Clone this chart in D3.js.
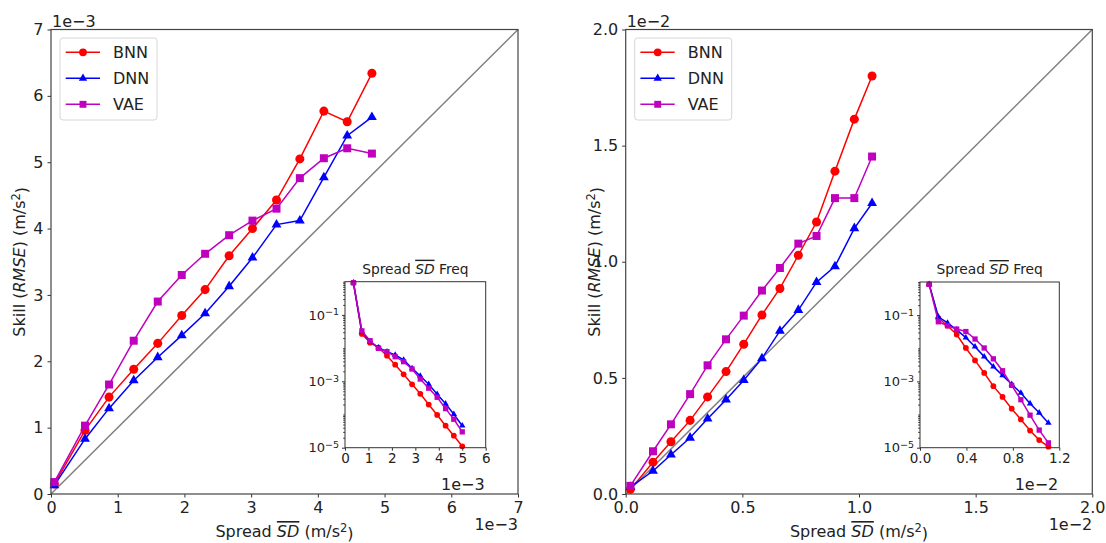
<!DOCTYPE html>
<html>
<head>
<meta charset="utf-8">
<script src="https://cdn.jsdelivr.net/npm/d3@7"></script>
<style>
  body { margin: 0; background: #fff; }
  svg { font-family: "DejaVu Sans", sans-serif; }
</style>
</head>
<body>
<svg id="chart" width="1106" height="543"></svg>
<script>
// left panel, values in units of 1e-3 m/s^2
var leftX   = [0.05, 0.51, 0.87, 1.24, 1.60, 1.96, 2.31, 2.67, 3.02, 3.38, 3.73, 4.09, 4.44, 4.81]
var leftBNN = [0.15, 0.96, 1.46, 1.88, 2.27, 2.69, 3.08, 3.59, 4.00, 4.43, 5.05, 5.77, 5.61, 6.34]
var leftDNN = [0.13, 0.83, 1.29, 1.71, 2.06, 2.39, 2.72, 3.13, 3.56, 4.06, 4.12, 4.77, 5.40, 5.68]
var leftVAE = [0.18, 1.03, 1.65, 2.31, 2.90, 3.30, 3.62, 3.90, 4.12, 4.30, 4.76, 5.06, 5.21, 5.13]
var leftTicks = [0, 1, 2, 3, 4, 5, 6, 7]

// right panel, values in units of 1e-2 m/s^2
var rightX   = [0.02, 0.117, 0.194, 0.276, 0.351, 0.430, 0.506, 0.584, 0.661, 0.740, 0.818, 0.897, 0.980, 1.056]
var rightBNN = [0.02, 0.137, 0.225, 0.317, 0.418, 0.527, 0.645, 0.771, 0.885, 1.028, 1.171, 1.390, 1.614, 1.800]
var rightDNN = [0.03, 0.099, 0.169, 0.242, 0.324, 0.406, 0.490, 0.584, 0.702, 0.792, 0.912, 0.980, 1.144, 1.252]
var rightVAE = [0.035, 0.184, 0.300, 0.430, 0.554, 0.666, 0.768, 0.876, 0.973, 1.078, 1.111, 1.274, 1.274, 1.453]
var rightTicks = [0, 0.5, 1.0, 1.5, 2.0]

// inset frequencies (left inset x in 1e-3, right inset x in 1e-2)
var insetLeftX   = [0.36, 0.72, 1.07, 1.43, 1.79, 2.14, 2.50, 2.86, 3.21, 3.57, 3.93, 4.29, 4.64, 5.00]
var insetLeftBNN = [0.93, 0.0266, 0.0146, 0.0103, 0.0059, 0.00316, 0.00162, 8.1e-4, 4.2e-4, 2.0e-4, 9.7e-5, 4.6e-5, 2.3e-5, 1.1e-5]
var insetLeftDNN = [0.93, 0.031, 0.0156, 0.0103, 0.0078, 0.0062, 0.0044, 0.00245, 0.00145, 8.1e-4, 4.1e-4, 2.1e-4, 1.02e-4, 4.6e-5]
var insetLeftVAE = [0.93, 0.033, 0.0167, 0.0098, 0.0078, 0.0055, 0.0039, 0.00234, 0.00117, 6.2e-4, 3.3e-4, 1.5e-4, 7.2e-5, 3.0e-5]
var insetLeftTicks = [0, 1, 2, 3, 4, 5, 6]

var insetRightX   = [0.079, 0.158, 0.237, 0.316, 0.395, 0.474, 0.553, 0.632, 0.711, 0.790, 0.869, 0.948, 1.027, 1.106]
var insetRightBNN = [0.85, 0.081, 0.048, 0.026, 0.0102, 0.0043, 0.0018, 7.2e-4, 3.4e-4, 1.5e-4, 7.1e-5, 3.3e-5, 1.7e-5, 1.07e-5]
var insetRightDNN = [0.85, 0.089, 0.058, 0.036, 0.021, 0.0112, 0.0056, 0.0028, 0.00152, 8.2e-4, 4.5e-4, 2.15e-4, 1.13e-4, 5.6e-5]
var insetRightVAE = [0.85, 0.063, 0.048, 0.038, 0.032, 0.019, 0.0102, 0.0048, 0.0021, 7.6e-4, 2.8e-4, 9.6e-5, 3.4e-5, 1.4e-5]
var insetRightTicks = [0, 0.4, 0.8, 1.2]

var logTicks = [1e-1, 1e-3, 1e-5]
var seriesNames = ["BNN", "DNN", "VAE"]
var colors = {BNN: "#ff0000", DNN: "#0000ff", VAE: "#bf00bf"}
var symbols = {BNN: d3.symbolCircle, DNN: d3.symbolTriangle, VAE: d3.symbolSquare}
var bigSize = {BNN: 64, DNN: 42, VAE: 64}
var smallSize = {BNN: 26, DNN: 18, VAE: 28}

var svg = d3.select("#chart")

function styleAxis(g, fs) {
    g.select(".domain").remove()
    g.attr("font-family", null).attr("font-size", null)
    g.selectAll(".tick line").attr("stroke", "#333")
    g.selectAll(".tick text").attr("fill", "#222").style("font-size", fs + "px")
}

function drawSeries(g, x, y, xs, data, sizes) {
    seriesNames.forEach(function(name) {
        var pts = xs.map(function(v, i) { return [v, data[name][i]] })
        g.append("path")
            .datum(pts)
            .attr("fill", "none")
            .attr("stroke", colors[name])
            .attr("stroke-width", 1.5)
            .attr("d", d3.line().x(d => x(d[0])).y(d => y(d[1])))
        g.selectAll(null)
            .data(pts)
            .enter()
            .append("path")
            .attr("transform", d => "translate(" + x(d[0]) + "," + y(d[1]) + ")")
            .attr("d", d3.symbol().type(symbols[name]).size(sizes[name]))
            .attr("fill", colors[name])
    })
}

// label with italic, overlined "SD"
function sdLabel(sel, before, after) {
    sel.append("tspan").text(before)
    sel.append("tspan").text("SD")
        .style("font-style", "italic")
        .style("text-decoration", "overline")
    sel.append("tspan").text(after)
}

// "(m/s^2)" with a proper superscript
function unitLabel(sel) {
    sel.append("tspan").text(" (m/s")
    sel.append("tspan").text("2").attr("dy", "-0.42em").style("font-size", "11.5px")
    sel.append("tspan").text(")").attr("dy", "0.42em")
}

function drawPanel(p) {
    var g = svg.append("g")
    var x = d3.scaleLinear().domain([0, p.max]).range([p.left, p.right])
    var y = d3.scaleLinear().domain([0, p.max]).range([p.bottom, p.top])

    // diagonal
    g.append("line")
        .attr("x1", x(0)).attr("y1", y(0))
        .attr("x2", x(p.max)).attr("y2", y(p.max))
        .attr("stroke", "#808080").attr("stroke-width", 1.5)

    drawSeries(g, x, y, p.xs, p.data, bigSize)

    g.append("g").attr("transform", "translate(0," + p.bottom + ")")
        .call(d3.axisBottom(x).tickValues(p.ticks).tickFormat(p.fmt).tickSize(3.5).tickPadding(4.5))
        .call(styleAxis, 16)
    g.append("g").attr("transform", "translate(" + p.left + ",0)")
        .call(d3.axisLeft(y).tickValues(p.ticks).tickFormat(p.fmt).tickSize(3.5).tickPadding(4))
        .call(styleAxis, 16)

    g.append("rect")
        .attr("x", p.left).attr("y", p.top)
        .attr("width", p.right - p.left).attr("height", p.bottom - p.top)
        .attr("fill", "none").attr("stroke", "#444").attr("stroke-width", 1.2)

    // offset texts
    g.append("text").attr("x", p.left + 1).attr("y", 26.5)
        .attr("font-size", 16).attr("fill", "#222").text(p.offset)
    g.append("text").attr("x", p.right).attr("y", 530)
        .attr("text-anchor", "end").attr("font-size", 16).attr("fill", "#222").text(p.offset)

    // axis labels
    var xl = g.append("text")
        .attr("x", (p.left + p.right) / 2).attr("y", 537)
        .attr("text-anchor", "middle").attr("font-size", 16).attr("fill", "#222")
    sdLabel(xl, "Spread ", "")
    unitLabel(xl)
    var yl = g.append("text")
        .attr("transform", "translate(" + (p.left - 26) + "," + ((p.top + p.bottom) / 2) + ") rotate(-90)")
        .attr("text-anchor", "middle").attr("font-size", 16).attr("fill", "#222")
    yl.append("tspan").text("Skill (")
    yl.append("tspan").text("RMSE").style("font-style", "italic")
    yl.append("tspan").text(")")
    unitLabel(yl)

    // legend
    var lg = g.append("g").attr("transform", "translate(" + (p.left + 9) + ",38)")
    lg.append("rect").attr("width", 97).attr("height", 82).attr("rx", 3)
        .attr("fill", "#fff").attr("fill-opacity", 0.8)
        .attr("stroke", "#d6d6d6")
    seriesNames.forEach(function(name, i) {
        var yy = 14.3 + i * 26
        lg.append("line").attr("x1", 5.7).attr("x2", 40).attr("y1", yy).attr("y2", yy)
            .attr("stroke", colors[name]).attr("stroke-width", 1.5)
        lg.append("path").attr("transform", "translate(23," + yy + ")")
            .attr("d", d3.symbol().type(symbols[name]).size(name === "DNN" ? 30 : 48))
            .attr("fill", colors[name])
        lg.append("text").attr("x", 53).attr("y", yy).attr("dy", "0.36em")
            .attr("font-size", 16).attr("fill", "#222").text(name)
    })

    drawInset(p.inset)
}

function drawInset(q) {
    var g = svg.append("g")
    var x = d3.scaleLinear().domain([0, q.max]).range([q.left, q.right])
    var y = d3.scaleLog().domain([1e-5, 1]).range([q.bottom, q.top])

    g.append("rect")
        .attr("x", q.left).attr("y", q.top)
        .attr("width", q.right - q.left).attr("height", q.bottom - q.top)
        .attr("fill", "#fff")

    drawSeries(g, x, y, q.xs, q.data, smallSize)

    g.append("g").attr("transform", "translate(0," + q.bottom + ")")
        .call(d3.axisBottom(x).tickValues(q.ticks).tickFormat(q.fmt).tickSize(3).tickPadding(3))
        .call(styleAxis, 13.5)

    var minor = []
    for (var k = -5; k <= 0; k++) {
        for (var m = 1; m <= 9; m++) {
            var v = m * Math.pow(10, k)
            if (v <= 1 && !(m === 1 && (k === -1 || k === -3 || k === -5))) minor.push(v)
        }
    }
    g.append("g").attr("transform", "translate(" + q.left + ",0)")
        .call(d3.axisLeft(y).tickValues(minor).tickFormat("").tickSize(1.8))
        .call(styleAxis, 13)
    var ya = g.append("g").attr("transform", "translate(" + q.left + ",0)")
        .call(d3.axisLeft(y).tickValues(logTicks).tickFormat("").tickSize(3).tickPadding(3))
        .call(styleAxis, 13)
    ya.selectAll(".tick text").each(function(d) {
        var t = d3.select(this)
        t.append("tspan").text("10")
        t.append("tspan").text("\u2212" + Math.round(-Math.log10(d)))
            .attr("dy", "-0.45em").style("font-size", "9.5px")
    })

    g.append("rect")
        .attr("x", q.left).attr("y", q.top)
        .attr("width", q.right - q.left).attr("height", q.bottom - q.top)
        .attr("fill", "none").attr("stroke", "#333").attr("stroke-width", 1)

    sdLabel(g.append("text")
        .attr("x", (q.left + q.right) / 2).attr("y", q.top - 8)
        .attr("text-anchor", "middle").attr("font-size", 13.8).attr("fill", "#222"),
        "Spread ", " Freq")

    g.append("text").attr("x", q.right - 1).attr("y", 490)
        .attr("text-anchor", "end").attr("font-size", 16).attr("fill", "#222").text(q.offset)
}

drawPanel({
    left: 51, right: 518, top: 29.5, bottom: 494, max: 7,
    ticks: leftTicks, fmt: d3.format("d"), offset: "1e\u22123",
    xs: leftX, data: {BNN: leftBNN, DNN: leftDNN, VAE: leftVAE},
    inset: {
        left: 345, right: 485.7, top: 281.7, bottom: 447.7, max: 6,
        ticks: insetLeftTicks, fmt: d3.format("d"), offset: "1e\u22123",
        xs: insetLeftX, data: {BNN: insetLeftBNN, DNN: insetLeftDNN, VAE: insetLeftVAE}
    }
})

drawPanel({
    left: 625.7, right: 1092.3, top: 29.5, bottom: 494, max: 2,
    ticks: rightTicks, fmt: d3.format(".1f"), offset: "1e\u22122",
    xs: rightX, data: {BNN: rightBNN, DNN: rightDNN, VAE: rightVAE},
    inset: {
        left: 920, right: 1059.3, top: 282, bottom: 447.7, max: 1.2,
        ticks: insetRightTicks, fmt: d3.format(".1f"), offset: "1e\u22122",
        xs: insetRightX, data: {BNN: insetRightBNN, DNN: insetRightDNN, VAE: insetRightVAE}
    }
})
</script>
</body>
</html>
